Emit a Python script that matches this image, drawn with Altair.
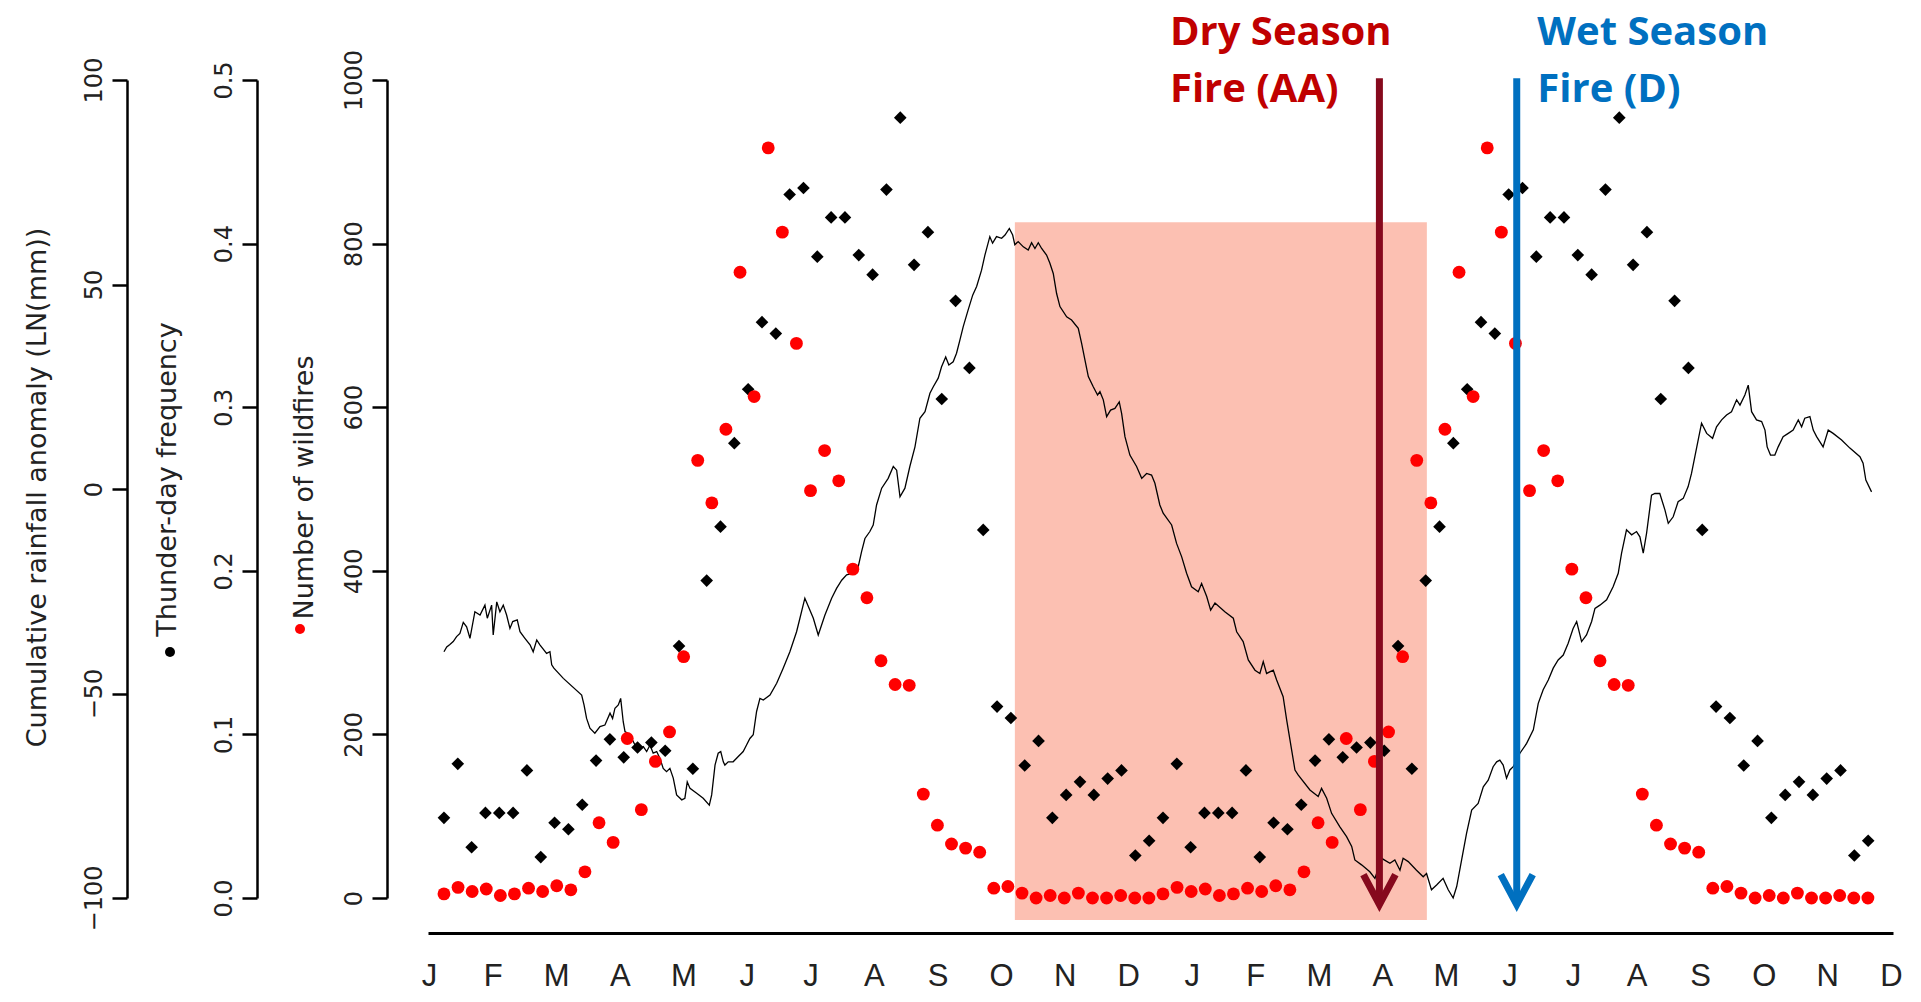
import altair as alt
import pandas as pd

# ---------------- data ----------------
month_labels = ["J", "F", "M", "A", "M", "J", "J", "A", "S", "O", "N", "D"] * 2

# weekly number of wildfires (51 values per year, the year is shown twice)
wildfires = [5, 13, 8, 11, 3, 5, 12, 8, 15, 10, 32, 92, 68, 195, 108, 167, 203, 295,
             535, 483, 573, 765, 613, 917, 814, 678, 498, 547, 510, 402, 367, 290,
             261, 260, 127, 89, 66, 61, 56, 12, 14, 6, 0, 3, 0, 6, 0, 0, 3, 0, 0]

# weekly thunder-day frequency (52 values per year, the year is shown twice)
thunder = [0.049, 0.082, 0.031, 0.052, 0.052, 0.052, 0.078, 0.025, 0.046, 0.042,
           0.057, 0.084, 0.097, 0.086, 0.092, 0.095, 0.090, 0.154, 0.079, 0.194,
           0.227, 0.278, 0.311, 0.352, 0.345, 0.430, 0.434, 0.392, 0.416, 0.416,
           0.393, 0.381, 0.433, 0.477, 0.387, 0.407, 0.305, 0.365, 0.324, 0.225,
           0.117, 0.110, 0.081, 0.096, 0.049, 0.063, 0.071, 0.063, 0.073, 0.078,
           0.026, 0.035]

# cumulative rainfall anomaly, day from start of the series
rain_day = [0, 1.4, 3.0, 4.7, 6.4, 8.1, 9.8, 11.5, 13.2, 15.7, 18.3, 20.8, 22.0, 24.2, 25.0,
            26.8, 28.4, 30.1, 31.8, 33.5, 34.9, 37.2, 38.6, 41.1, 43.7, 45.3, 47.1, 48.7,
            52.1, 53.8, 54.7, 55.8, 60.6, 69.9, 71.1, 72.4, 74.1, 76.6, 79.2, 81.7, 84.3,
            85.6, 86.8, 88.5, 89.7, 91.0, 91.9, 94.4, 95.3, 97.0, 99.5, 101.2, 102.9, 104.6,
            106.2, 108.0, 109.6, 111.3, 113.0, 114.7, 116.4, 118.1, 120.7, 122.3, 123.5,
            124.9, 128.3, 131.6, 134.7, 135.9, 137.6, 139.2, 140.5, 141.8, 142.6, 144.3,
            146.8, 149.4, 151.9, 153.6, 155.3, 157.0, 158.7, 160.4, 162.1, 165.5, 168.9,
            172.2, 175.6, 179.0, 180.7,
            183.2, 187.5, 190.0, 193.4, 196.8, 199.3, 201.9, 204.4, 207.8, 210.3, 212.0,
            213.7, 216.2, 217.9, 219.6,
            222.2, 225.5, 228.1, 229.8, 231.5, 234.0, 236.5, 239.1, 241.6, 244.2, 246.7,
            248.4, 250.9, 252.6, 254.7, 256.3, 258.5, 260.2, 261.9, 263.6, 266.1, 268.4,
            270.4, 272.9, 274.6, 277.1, 278.5, 280.5, 283.1, 284.8, 287.0, 288.7, 289.8,
            291.5, 294.1, 296.6, 298.3, 300.0, 301.7, 303.4, 305.9, 307.6, 309.3, 311.0,
            312.7, 316.1, 318.6, 322.0, 323.7, 325.4, 327.1, 329.6, 331.8, 333.0, 334.7,
            336.4, 338.4, 340.6, 342.8, 344.0, 345.7, 348.2, 351.6, 354.2, 356.7, 359.2,
            360.9, 363.4,
            365.1, 369.4, 371.9, 374.5, 377.0, 379.5, 382.9, 384.6, 387.2, 389.2, 391.4,
            396.4, 400.7, 402.4, 405.7, 408.3, 411.7, 414.2, 415.9, 417.6, 421.0, 422.7,
            426.0,
            427.8, 430.3, 432.0, 433.6, 439.6, 443.8, 445.5, 448.1, 450.6, 454.8, 458.2,
            460.8, 462.4, 465.8, 470.0, 472.6, 476.0, 480.2, 482.7, 485.3, 486.9, 489.5,
            493.7, 497.1, 498.8, 501.3, 503.9, 507.2, 509.8, 512.3, 514.1, 516.6, 519.1,
            521.7, 525.0, 527.6, 530.1, 532.6, 534.4, 536.0, 537.7, 539.4, 541.1, 542.8,
            546.2, 549.6, 553.0, 555.5,
            558.0, 560.6, 563.1, 565.6, 568.2, 570.7, 573.2, 575.0, 577.5, 580.0, 582.6,
            584.3, 586.8, 590.2, 593.5, 596.1, 597.8, 600.3, 602.9, 605.4, 607.1, 608.8,
            610.5, 613.0, 614.7, 617.2, 619.8, 621.5, 624.0, 626.5, 629.1, 631.6, 633.3,
            635.0, 636.7, 638.4, 641.0, 644.0, 646.0, 648.6, 651.1, 653.6, 656.2, 657.9,
            660.4, 662.1, 663.8, 666.3, 668.9, 670.6, 671.7, 673.4, 675.6, 677.3, 679.8,
            682.4, 684.9, 687.5, 689.2, 690.8, 693.4, 695.1, 696.8, 700.1, 702.7, 705.2,
            709.5, 713.7, 718.8, 720.4, 721.8, 724.7]

rain_val = [-39.8, -38.6, -38.0, -37.3, -36.1, -35.3, -32.6, -33.7, -36.5, -30.0, -30.8, -28.4,
            -31.6, -28.4, -35.7, -27.6, -30.0, -28.4, -30.8, -34.1, -32.4, -32.0, -34.9, -36.5,
            -38.1, -39.8, -36.9, -38.1, -40.2, -39.8, -43.0, -43.8, -46.3, -50.4, -52.8, -56.1,
            -58.5, -59.7, -58.1, -57.7, -54.8, -56.1, -53.6, -52.8, -51.2, -56.9, -59.3, -60.1,
            -61.0, -62.6, -63.4, -63.0, -64.2, -62.6, -64.6, -64.2, -65.8, -68.3, -69.1, -68.3,
            -70.7, -74.8, -76.0, -75.6, -71.6, -73.2, -74.4, -75.6, -77.3, -74.8, -67.5, -64.6,
            -64.2, -66.7, -67.5, -66.7, -66.7, -65.4, -64.2, -62.6, -61.0, -60.1, -54.4, -51.2,
            -51.6, -50.4, -47.5, -43.8, -39.8, -34.9, -31.6,
            -26.7, -31.6, -35.7, -30.8, -26.7, -24.3, -22.3, -21.0, -20.6, -19.0, -15.3, -12.1,
            -10.4, -8.8, -3.9,
            0.2, 2.6, 5.5, 4.6, -1.9, 0.2, 5.5, 10.3, 17.3, 18.9, 23.4, 25.0, 27.1, 29.9, 32.3,
            30.3, 31.1, 33.2, 36.4, 39.7, 43.8, 47.4, 49.5, 53.5, 57.2, 61.7, 60.1, 61.7, 61.3,
            62.1, 63.7, 62.1, 59.7, 60.5, 59.2, 58.4, 60.2, 58.8, 60.2, 58.8, 57.2, 55.2, 52.7,
            47.8, 44.6, 42.1, 41.3, 39.3, 35.6, 31.5, 27.5, 25.0, 23.0, 23.8, 21.8, 17.7, 19.3,
            19.7, 21.3, 18.5, 12.8, 8.3, 5.5, 2.6, 3.8, 3.4, 1.4, -3.9,
            -5.9, -8.8, -13.3, -16.6, -20.6, -23.9, -25.1, -23.1, -26.3, -29.6, -27.9, -30.0,
            -31.6, -34.9, -37.3, -41.8, -44.3, -45.1, -42.2, -45.1, -44.3, -46.7, -50.8,
            -56.5, -63.8, -68.7, -69.9, -73.6, -75.2, -73.2, -75.6, -79.3, -82.6, -85.0, -87.4,
            -90.7, -91.9, -93.6, -95.2, -90.3, -91.5, -90.7, -93.2, -90.3, -91.1, -93.2, -94.8,
            -94.0, -98.0, -96.8, -95.2, -98.0, -100.0, -97.2, -90.7, -84.2, -78.5, -76.9, -72.8,
            -71.2, -67.9, -66.7, -66.3, -67.5, -70.7, -68.7, -67.9, -64.6, -62.2, -58.9, -52.4,
            -49.1, -46.7, -43.8, -41.8, -40.6, -37.7, -34.1, -32.4, -37.3, -35.7, -32.4, -29.2,
            -28.4, -27.1, -23.9, -20.6, -15.7, -10.0, -11.2, -10.4, -11.7, -15.7, -10.8, -1.5,
            -1.1, -1.1, -5.1, -8.4, -6.8, -3.1, -2.3, 0.6, 3.8, 7.9, 12.0, 16.1, 13.6, 12.4,
            15.2, 16.9, 18.1, 18.9, 21.8, 20.5, 23.0, 25.4, 18.9, 16.9, 16.5, 14.4, 10.3, 8.3,
            8.3, 10.3, 12.8, 13.6, 14.4, 16.9, 15.2, 17.3, 17.7, 14.4, 12.8, 10.3, 14.4, 13.6,
            12.0, 10.0, 7.9, 6.3, 2.2, -0.7]

# shaded dry season (in years from the series start) and its vertical extent (wildfire units)
shade_years = [0.794, 1.367]
shade_fires = [-27, 826]

# arrows and their labels
note_text = ["Dry Season\nFire (AA)", "Wet Season\nFire (D)"]
note_years = [1.0097, 1.5207]
arrow_years = [1.301, 1.492]
arrow_fires = [1002, -8]          # top and tip of the arrows, wildfire units
arrow_colors = ["#86091D", "#0070C0"]
note_colors = ["#C00000", "#0070C0"]

# ---------------- tables ----------------
nf, nt = len(wildfires), len(thunder)
fire_df = pd.DataFrame({"t": [y + k / nf for y in range(2) for k in range(nf)],
                        "fires": wildfires * 2})
thunder_df = pd.DataFrame({"t": [y + k / nt for y in range(2) for k in range(nt)],
                           "thunder": thunder * 2})
rain_df = pd.DataFrame({"t": [d / 365.0 for d in rain_day], "rain": rain_val})
shade_df = pd.DataFrame({"t0": [shade_years[0]], "t1": [shade_years[1]],
                         "lo": [shade_fires[0]], "hi": [shade_fires[1]]})

X_DOMAIN = [-0.0222, 2.0153]
tick_vals = [-0.0207 + i * 0.08839 for i in range(len(month_labels))]
label_expr = "[" + ",".join("'%s'" % m for m in month_labels) + "][round(datum.index*%d)]" % (len(month_labels) - 1)

x_axis = alt.Axis(values=tick_vals, labelExpr=label_expr, title=None, grid=False,
                  ticks=False, tickSize=0, domainColor="black", domainWidth=3,
                  labelFont="Liberation Sans", labelFontSize=31, labelColor="#222",
                  labelPadding=52, labelBaseline="alphabetic", labelFlush=False,
                  labelOverlap=False, offset=35)


def xenc(field):
    return alt.X(field, type="quantitative",
                 scale=alt.Scale(domain=X_DOMAIN, nice=False, zero=False), axis=x_axis)


def yaxis(offset, values, title, fmt, title_x, title_y):
    return alt.Axis(orient="left", offset=offset, values=values, format=fmt, title=title,
                    grid=False, domainColor="black", domainWidth=2.5, tickColor="black",
                    tickWidth=2.5, tickSize=15, labelAngle=270, labelAlign="center",
                    labelBaseline="alphabetic", labelPadding=11, labelFont="DejaVu Sans",
                    labelFontSize=24, labelColor="#222", labelOverlap=False,
                    titleFont="DejaVu Sans", titleFontSize=27, titleFontWeight="normal",
                    titleColor="#222", titleAngle=270, titleAlign="center",
                    titleBaseline="alphabetic", titleX=title_x, titleY=title_y)


fire_scale = alt.Scale(domain=[0, 1000], nice=False, zero=False)

shade = alt.Chart(shade_df).mark_rect(color="#FCC0B2", opacity=1).encode(
    x=xenc("t0"), x2="t1",
    y=alt.Y("lo:Q", scale=fire_scale, axis=None), y2="hi")

rain = alt.Chart(rain_df).mark_line(color="black", strokeWidth=1.3).encode(
    x=xenc("t"),
    y=alt.Y("rain:Q", scale=alt.Scale(domain=[-100, 100], nice=False, zero=False),
            axis=yaxis(301, [-100, -50, 0, 50, 100], "Cumulative rainfall anomaly (LN(mm))",
                       "d", -82, 407)))

thund = alt.Chart(thunder_df).mark_point(shape="diamond", filled=True, size=160,
                                        color="black", opacity=1).encode(
    x=xenc("t"),
    y=alt.Y("thunder:Q", scale=alt.Scale(domain=[0, 0.5], nice=False, zero=False),
            axis=yaxis(171, [0, 0.1, 0.2, 0.3, 0.4, 0.5], "Thunder-day frequency",
                       ".1f", -82, 399)))

fires = alt.Chart(fire_df).mark_circle(size=165, color="#FF0000", opacity=1).encode(
    x=xenc("t"),
    y=alt.Y("fires:Q", scale=fire_scale,
            axis=yaxis(41, [0, 200, 400, 600, 800, 1000], "Number of wildfires",
                       "d", -75, 407)))

legend_black = alt.Chart(pd.DataFrame({"k": [0]})).mark_circle(
    size=100, color="black", opacity=1).encode(x=alt.value(-258), y=alt.value(572))
legend_red = alt.Chart(pd.DataFrame({"k": [0]})).mark_circle(
    size=100, color="#FF0000", opacity=1).encode(x=alt.value(-128), y=alt.value(549))

layers = [shade, rain, thund, fires, legend_black, legend_red]

for i in range(len(arrow_years)):
    adf = pd.DataFrame({"t": [arrow_years[i]], "top": [arrow_fires[0]], "tip": [arrow_fires[1]]})
    layers.append(alt.Chart(adf).mark_rule(color=arrow_colors[i], strokeWidth=7).encode(
        x=xenc("t"), y=alt.Y("top:Q", scale=fire_scale, axis=None), y2="tip"))
    layers.append(alt.Chart(adf).mark_point(
        shape="M-0.533,-1L0,0L0.533,-1", filled=False, size=3600, strokeWidth=7,
        color=arrow_colors[i], opacity=1, strokeJoin="miter", strokeCap="butt").encode(
        x=xenc("t"), y=alt.Y("tip:Q", scale=fire_scale, axis=None)))
    ndf = pd.DataFrame({"t": [note_years[i]], "label": [note_text[i]]})
    layers.append(alt.Chart(ndf).mark_text(
        align="left", baseline="alphabetic", font="Open Sans", fontWeight="bold", fontSize=40,
        color=note_colors[i], lineBreak="\n", lineHeight=57).encode(
        x=xenc("t"), y=alt.value(-35), text="label:N"))

chart = alt.layer(*layers).resolve_scale(y="independent").resolve_axis(y="independent").properties(
    width=1465, height=818,
    padding={"left": 420, "top": 72, "right": 20, "bottom": 100},
    autosize=alt.AutoSizeParams(type="none"),
    background="white",
).configure_view(stroke=None)

chart.save("out.html", embed_options={"renderer": "svg", "actions": False})
